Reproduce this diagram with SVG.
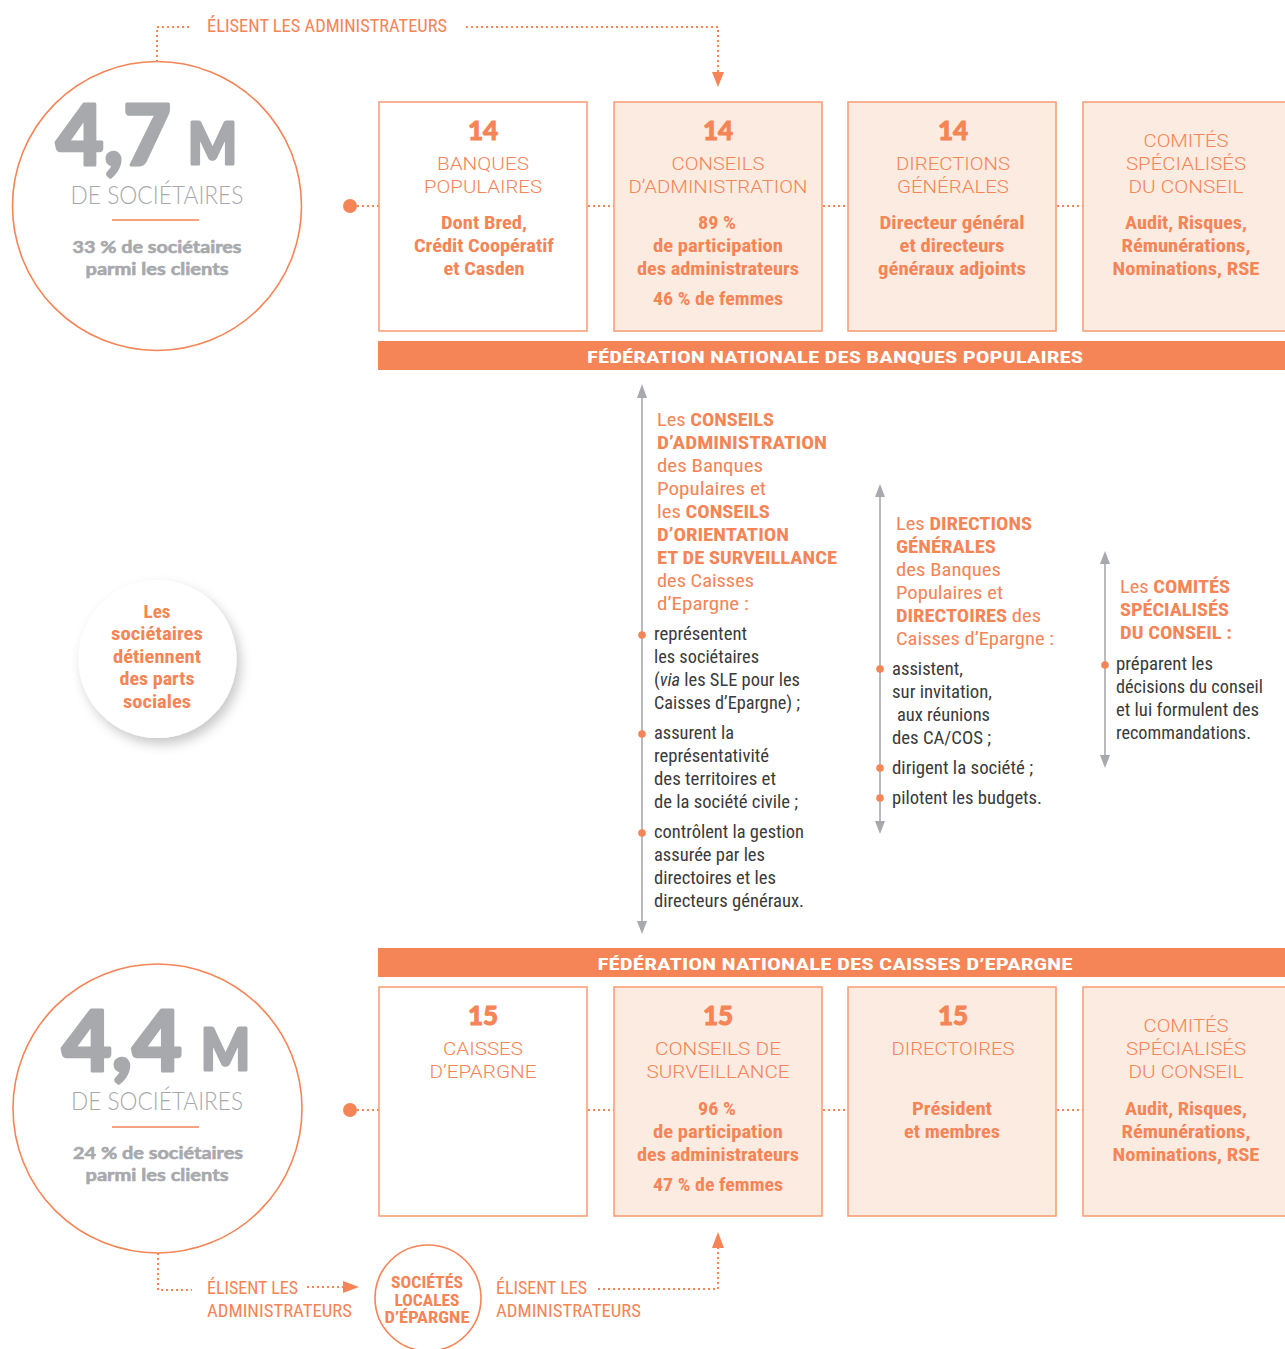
<svg xmlns="http://www.w3.org/2000/svg" width="1285" height="1349" viewBox="0 0 1285 1349">
<defs>
<style>
.ob{font-family:"Roboto Condensed","Liberation Sans Narrow",Roboto,"Liberation Sans",sans-serif;font-weight:700;fill:#F58456}
.or{font-family:"Roboto Condensed","Liberation Sans Narrow",Roboto,"Liberation Sans",sans-serif;font-weight:400;fill:#F58456}
.dk{font-family:"Roboto Condensed","Liberation Sans Narrow",Roboto,"Liberation Sans",sans-serif;font-weight:400;fill:#3a3a3a;font-size:17.5px}
.b{font-weight:700}
.lt{font-family:Roboto,"Liberation Sans",sans-serif;font-weight:300;font-size:18.5px;fill:#F58456;text-anchor:middle}
.num{font-family:Lato,"Open Sans",sans-serif;font-weight:900;font-size:26px;fill:#F58456;stroke:#F58456;stroke-width:0.9;text-anchor:middle}
.big{font-family:Lato,"Open Sans",sans-serif;font-weight:900;fill:#A7A9AC;stroke:#A7A9AC;stroke-width:3;stroke-linejoin:round}
.gl{font-family:Lato,"Open Sans",sans-serif;font-weight:300;font-size:25px;fill:#A7A9AC;text-anchor:middle}
.gb{font-family:Lato,"Open Sans",sans-serif;font-weight:700;font-size:17.5px;fill:#A7A9AC;stroke:#A7A9AC;stroke-width:0.6;text-anchor:middle}
.m{text-anchor:middle}
.bw{font-family:"Roboto Condensed","Liberation Sans Narrow",Roboto,"Liberation Sans",sans-serif;font-weight:700;font-size:17px;fill:#ffffff;text-anchor:middle}
.box{stroke:#F7A07A;stroke-width:1.6;fill:#ffffff}
.pk{fill:#FCEBE0}
.dot{stroke:#F58456;stroke-width:2;stroke-dasharray:2 3;fill:none}
.ring{stroke:#F58456;stroke-width:1.6;fill:#ffffff}
.vl{stroke:#A7A9AC;stroke-width:1.6;fill:none}
.ga{fill:#A7A9AC}
.oa{fill:#F58456}
</style>
<filter id="sh" x="-30%" y="-30%" width="160%" height="160%">
<feDropShadow dx="4" dy="6" stdDeviation="6" flood-color="#000000" flood-opacity="0.22"/>
</filter>
</defs>
<rect width="1285" height="1349" fill="#ffffff"/>

<g id="connectors">
<path class="dot" d="M157,62 V27 H191"/>
<path class="dot" d="M466,27 H718 V72"/>
<polygon class="oa" points="712,72 724,72 718,87"/>
<path class="dot" d="M357,206 H379 M588,206 H614 M823,206 H848 M1057,206 H1083"/>
<path class="dot" d="M357,1110 H379 M588,1110 H614 M823,1110 H848 M1057,1110 H1083"/>
<path class="dot" d="M158,1253 V1290 H192"/>
<path class="dot" d="M307,1287 H344"/>
<polygon class="oa" points="343,1281 359,1287 343,1293"/>
<path class="dot" d="M598,1289 H718 V1248"/>
<polygon class="oa" points="712,1248 724,1248 718,1232"/>
<line class="vl" x1="642" y1="395" x2="642" y2="924"/>
<polygon class="ga" points="637,398 647,398 642,384"/>
<polygon class="ga" points="637,921 647,921 642,934"/>
<line class="vl" x1="880" y1="494" x2="880" y2="824"/>
<polygon class="ga" points="875,497 885,497 880,484"/>
<polygon class="ga" points="875,821 885,821 880,834"/>
<line class="vl" x1="1105" y1="561" x2="1105" y2="758"/>
<polygon class="ga" points="1100,564 1110,564 1105,551"/>
<polygon class="ga" points="1100,755 1110,755 1105,768"/>
</g>

<g id="top-label">
<text class="or" x="207" y="32" font-size="19" textLength="240" lengthAdjust="spacingAndGlyphs">ÉLISENT LES ADMINISTRATEURS</text>
</g>

<g id="bp-societaires">
<circle class="ring" cx="157" cy="206" r="144.5"/>
<text class="big" x="56" y="165" font-size="84" textLength="115" lengthAdjust="spacingAndGlyphs">4,7</text>
<text class="big" x="188" y="164" font-size="57" textLength="49" lengthAdjust="spacingAndGlyphs">M</text>
<text class="gl" x="157" y="204" textLength="173" lengthAdjust="spacingAndGlyphs">DE SOCIÉTAIRES</text>
<line x1="112" y1="220" x2="199" y2="220" stroke="#F58456" stroke-width="1.6"/>
<text class="gb" x="157" y="253" textLength="169" lengthAdjust="spacingAndGlyphs">33 % de sociétaires</text>
<text class="gb" x="157" y="275" textLength="143" lengthAdjust="spacingAndGlyphs">parmi les clients</text>
<circle class="oa" cx="350" cy="206" r="7"/>
</g>

<g id="bp-banques">
<rect class="box" x="379" y="102" width="208" height="229"/>
<text class="num" x="483" y="140">14</text>
<text class="lt" x="483" y="170" textLength="92" lengthAdjust="spacingAndGlyphs">BANQUES</text>
<text class="lt" x="483" y="193" textLength="118" lengthAdjust="spacingAndGlyphs">POPULAIRES</text>
<text class="ob m" x="484" y="229" font-size="18.5" textLength="86" lengthAdjust="spacingAndGlyphs">Dont Bred,</text>
<text class="ob m" x="484" y="252" font-size="18.5" textLength="140" lengthAdjust="spacingAndGlyphs">Crédit Coopératif</text>
<text class="ob m" x="484" y="275" font-size="18.5" textLength="81" lengthAdjust="spacingAndGlyphs">et Casden</text>
</g>

<g id="bp-conseils">
<rect class="box pk" x="614" y="102" width="208" height="229"/>
<text class="num" x="718" y="140">14</text>
<text class="lt" x="718" y="170" textLength="93" lengthAdjust="spacingAndGlyphs">CONSEILS</text>
<text class="lt" x="718" y="193" textLength="179" lengthAdjust="spacingAndGlyphs">D’ADMINISTRATION</text>
<text class="ob m" x="717" y="229" font-size="18.5" textLength="38" lengthAdjust="spacingAndGlyphs">89 %</text>
<text class="ob m" x="718" y="252" font-size="18.5" textLength="130" lengthAdjust="spacingAndGlyphs">de participation</text>
<text class="ob m" x="718" y="275" font-size="18.5" textLength="162" lengthAdjust="spacingAndGlyphs">des administrateurs</text>
<text class="ob m" x="718" y="305" font-size="18.5" textLength="130" lengthAdjust="spacingAndGlyphs">46 % de femmes</text>
</g>

<g id="bp-directions">
<rect class="box pk" x="848" y="102" width="208" height="229"/>
<text class="num" x="953" y="140">14</text>
<text class="lt" x="953" y="170" textLength="114" lengthAdjust="spacingAndGlyphs">DIRECTIONS</text>
<text class="lt" x="953" y="193" textLength="112" lengthAdjust="spacingAndGlyphs">GÉNÉRALES</text>
<text class="ob m" x="952" y="229" font-size="18.5" textLength="145" lengthAdjust="spacingAndGlyphs">Directeur général</text>
<text class="ob m" x="952" y="252" font-size="18.5" textLength="105" lengthAdjust="spacingAndGlyphs">et directeurs</text>
<text class="ob m" x="952" y="275" font-size="18.5" textLength="148" lengthAdjust="spacingAndGlyphs">généraux adjoints</text>
</g>

<g id="bp-comites">
<rect class="box pk" x="1083" y="102" width="212" height="229"/>
<text class="lt" x="1186" y="147" textLength="85" lengthAdjust="spacingAndGlyphs">COMITÉS</text>
<text class="lt" x="1186" y="170" textLength="120" lengthAdjust="spacingAndGlyphs">SPÉCIALISÉS</text>
<text class="lt" x="1186" y="193" textLength="115" lengthAdjust="spacingAndGlyphs">DU CONSEIL</text>
<text class="ob m" x="1186" y="229" font-size="18.5" textLength="122" lengthAdjust="spacingAndGlyphs">Audit, Risques,</text>
<text class="ob m" x="1186" y="252" font-size="18.5" textLength="129" lengthAdjust="spacingAndGlyphs">Rémunérations,</text>
<text class="ob m" x="1186" y="275" font-size="18.5" textLength="147" lengthAdjust="spacingAndGlyphs">Nominations, RSE</text>
</g>

<g id="fnbp">
<rect x="378" y="341" width="907" height="29" fill="#F58456"/>
<text class="bw" x="835" y="363" textLength="496" lengthAdjust="spacingAndGlyphs">FÉDÉRATION NATIONALE DES BANQUES POPULAIRES</text>
</g>

<g id="parts-sociales">
<circle cx="157.5" cy="659" r="79" fill="#ffffff" filter="url(#sh)"/>
<text class="ob m" x="157" y="618" font-size="18.5" textLength="27" lengthAdjust="spacingAndGlyphs">Les</text>
<text class="ob m" x="157" y="640" font-size="18.5" textLength="92" lengthAdjust="spacingAndGlyphs">sociétaires</text>
<text class="ob m" x="157" y="663" font-size="18.5" textLength="88" lengthAdjust="spacingAndGlyphs">détiennent</text>
<text class="ob m" x="157" y="685" font-size="18.5" textLength="75" lengthAdjust="spacingAndGlyphs">des parts</text>
<text class="ob m" x="157" y="708" font-size="18.5" textLength="68" lengthAdjust="spacingAndGlyphs">sociales</text>
</g>

<g id="col-conseils">
<text class="or" x="657" y="426" font-size="19" textLength="117" lengthAdjust="spacingAndGlyphs">Les <tspan class="b">CONSEILS</tspan></text>
<text class="ob" x="657" y="449" font-size="19" textLength="170" lengthAdjust="spacingAndGlyphs">D’ADMINISTRATION</text>
<text class="or" x="657" y="472" font-size="19" textLength="106" lengthAdjust="spacingAndGlyphs">des Banques</text>
<text class="or" x="657" y="495" font-size="19" textLength="109" lengthAdjust="spacingAndGlyphs">Populaires et</text>
<text class="or" x="657" y="518" font-size="19" textLength="113" lengthAdjust="spacingAndGlyphs">les <tspan class="b">CONSEILS</tspan></text>
<text class="ob" x="657" y="541" font-size="19" textLength="132" lengthAdjust="spacingAndGlyphs">D’ORIENTATION</text>
<text class="ob" x="657" y="564" font-size="19" textLength="180" lengthAdjust="spacingAndGlyphs">ET DE SURVEILLANCE</text>
<text class="or" x="657" y="587" font-size="19" textLength="97" lengthAdjust="spacingAndGlyphs">des Caisses</text>
<text class="or" x="657" y="610" font-size="19" textLength="92" lengthAdjust="spacingAndGlyphs">d’Epargne :</text>
<circle class="oa" cx="642" cy="635" r="3.8"/>
<circle class="oa" cx="642" cy="734" r="3.8"/>
<circle class="oa" cx="642" cy="833" r="3.8"/>
<text class="dk" x="654" y="640" textLength="93" lengthAdjust="spacingAndGlyphs">représentent</text>
<text class="dk" x="654" y="663" textLength="105" lengthAdjust="spacingAndGlyphs">les sociétaires</text>
<text class="dk" x="654" y="686" textLength="146" lengthAdjust="spacingAndGlyphs">(<tspan font-style="italic">via</tspan> les SLE pour les</text>
<text class="dk" x="654" y="709" textLength="146" lengthAdjust="spacingAndGlyphs">Caisses d’Epargne) ;</text>
<text class="dk" x="654" y="739" textLength="80" lengthAdjust="spacingAndGlyphs">assurent la</text>
<text class="dk" x="654" y="762" textLength="115" lengthAdjust="spacingAndGlyphs">représentativité</text>
<text class="dk" x="654" y="785" textLength="122" lengthAdjust="spacingAndGlyphs">des territoires et</text>
<text class="dk" x="654" y="808" textLength="144" lengthAdjust="spacingAndGlyphs">de la société civile ;</text>
<text class="dk" x="654" y="838" textLength="150" lengthAdjust="spacingAndGlyphs">contrôlent la gestion</text>
<text class="dk" x="654" y="861" textLength="111" lengthAdjust="spacingAndGlyphs">assurée par les</text>
<text class="dk" x="654" y="884" textLength="122" lengthAdjust="spacingAndGlyphs">directoires et les</text>
<text class="dk" x="654" y="907" textLength="150" lengthAdjust="spacingAndGlyphs">directeurs généraux.</text>
</g>

<g id="col-directions">
<text class="or" x="896" y="530" font-size="19" textLength="136" lengthAdjust="spacingAndGlyphs">Les <tspan class="b">DIRECTIONS</tspan></text>
<text class="ob" x="896" y="553" font-size="19" textLength="100" lengthAdjust="spacingAndGlyphs">GÉNÉRALES</text>
<text class="or" x="896" y="576" font-size="19" textLength="105" lengthAdjust="spacingAndGlyphs">des Banques</text>
<text class="or" x="896" y="599" font-size="19" textLength="107" lengthAdjust="spacingAndGlyphs">Populaires et</text>
<text class="or" x="896" y="622" font-size="19" textLength="145" lengthAdjust="spacingAndGlyphs"><tspan class="b">DIRECTOIRES</tspan> des</text>
<text class="or" x="896" y="645" font-size="19" textLength="158" lengthAdjust="spacingAndGlyphs">Caisses d’Epargne :</text>
<circle class="oa" cx="880" cy="669" r="3.8"/>
<circle class="oa" cx="880" cy="768" r="3.8"/>
<circle class="oa" cx="880" cy="798" r="3.8"/>
<text class="dk" x="892" y="675" textLength="71" lengthAdjust="spacingAndGlyphs">assistent,</text>
<text class="dk" x="892" y="698" textLength="100" lengthAdjust="spacingAndGlyphs">sur invitation,</text>
<text class="dk" x="897" y="721" textLength="93" lengthAdjust="spacingAndGlyphs">aux réunions</text>
<text class="dk" x="892" y="744" textLength="99" lengthAdjust="spacingAndGlyphs">des CA/COS ;</text>
<text class="dk" x="892" y="774" textLength="141" lengthAdjust="spacingAndGlyphs">dirigent la société ;</text>
<text class="dk" x="892" y="804" textLength="150" lengthAdjust="spacingAndGlyphs">pilotent les budgets.</text>
</g>

<g id="col-comites">
<text class="or" x="1120" y="593" font-size="19" textLength="110" lengthAdjust="spacingAndGlyphs">Les <tspan class="b">COMITÉS</tspan></text>
<text class="ob" x="1120" y="616" font-size="19" textLength="109" lengthAdjust="spacingAndGlyphs">SPÉCIALISÉS</text>
<text class="ob" x="1120" y="639" font-size="19" textLength="112" lengthAdjust="spacingAndGlyphs">DU CONSEIL :</text>
<circle class="oa" cx="1105" cy="665" r="3.8"/>
<text class="dk" x="1116" y="670" textLength="97" lengthAdjust="spacingAndGlyphs">préparent les</text>
<text class="dk" x="1116" y="693" textLength="147" lengthAdjust="spacingAndGlyphs">décisions du conseil</text>
<text class="dk" x="1116" y="716" textLength="143" lengthAdjust="spacingAndGlyphs">et lui formulent des</text>
<text class="dk" x="1116" y="739" textLength="135" lengthAdjust="spacingAndGlyphs">recommandations.</text>
</g>

<g id="fnce">
<rect x="378" y="948" width="907" height="29" fill="#F58456"/>
<text class="bw" x="835" y="970" textLength="475" lengthAdjust="spacingAndGlyphs">FÉDÉRATION NATIONALE DES CAISSES D’EPARGNE</text>
</g>

<g id="ce-societaires">
<circle class="ring" cx="157.5" cy="1108.5" r="144.5"/>
<text class="big" x="62" y="1071" font-size="84" textLength="120" lengthAdjust="spacingAndGlyphs">4,4</text>
<text class="big" x="201" y="1070" font-size="57" textLength="49" lengthAdjust="spacingAndGlyphs">M</text>
<text class="gl" x="157" y="1110" textLength="172" lengthAdjust="spacingAndGlyphs">DE SOCIÉTAIRES</text>
<line x1="112" y1="1127" x2="199" y2="1127" stroke="#F58456" stroke-width="1.6"/>
<text class="gb" x="158" y="1159" textLength="170" lengthAdjust="spacingAndGlyphs">24 % de sociétaires</text>
<text class="gb" x="157" y="1181" textLength="143" lengthAdjust="spacingAndGlyphs">parmi les clients</text>
<circle class="oa" cx="350" cy="1110" r="7"/>
</g>

<g id="ce-caisses">
<rect class="box" x="379" y="987" width="208" height="229"/>
<text class="num" x="483" y="1025">15</text>
<text class="lt" x="483" y="1055" textLength="80" lengthAdjust="spacingAndGlyphs">CAISSES</text>
<text class="lt" x="483" y="1078" textLength="107" lengthAdjust="spacingAndGlyphs">D’EPARGNE</text>
</g>

<g id="ce-conseils">
<rect class="box pk" x="614" y="987" width="208" height="229"/>
<text class="num" x="718" y="1025">15</text>
<text class="lt" x="718" y="1055" textLength="126" lengthAdjust="spacingAndGlyphs">CONSEILS DE</text>
<text class="lt" x="718" y="1078" textLength="143" lengthAdjust="spacingAndGlyphs">SURVEILLANCE</text>
<text class="ob m" x="717" y="1115" font-size="18.5" textLength="38" lengthAdjust="spacingAndGlyphs">96 %</text>
<text class="ob m" x="718" y="1138" font-size="18.5" textLength="130" lengthAdjust="spacingAndGlyphs">de participation</text>
<text class="ob m" x="718" y="1161" font-size="18.5" textLength="162" lengthAdjust="spacingAndGlyphs">des administrateurs</text>
<text class="ob m" x="718" y="1191" font-size="18.5" textLength="130" lengthAdjust="spacingAndGlyphs">47 % de femmes</text>
</g>

<g id="ce-directoires">
<rect class="box pk" x="848" y="987" width="208" height="229"/>
<text class="num" x="953" y="1025">15</text>
<text class="lt" x="953" y="1055" textLength="123" lengthAdjust="spacingAndGlyphs">DIRECTOIRES</text>
<text class="ob m" x="952" y="1115" font-size="18.5" textLength="80" lengthAdjust="spacingAndGlyphs">Président</text>
<text class="ob m" x="952" y="1138" font-size="18.5" textLength="96" lengthAdjust="spacingAndGlyphs">et membres</text>
</g>

<g id="ce-comites">
<rect class="box pk" x="1083" y="987" width="212" height="229"/>
<text class="lt" x="1186" y="1032" textLength="85" lengthAdjust="spacingAndGlyphs">COMITÉS</text>
<text class="lt" x="1186" y="1055" textLength="120" lengthAdjust="spacingAndGlyphs">SPÉCIALISÉS</text>
<text class="lt" x="1186" y="1078" textLength="115" lengthAdjust="spacingAndGlyphs">DU CONSEIL</text>
<text class="ob m" x="1186" y="1115" font-size="18.5" textLength="122" lengthAdjust="spacingAndGlyphs">Audit, Risques,</text>
<text class="ob m" x="1186" y="1138" font-size="18.5" textLength="129" lengthAdjust="spacingAndGlyphs">Rémunérations,</text>
<text class="ob m" x="1186" y="1161" font-size="18.5" textLength="147" lengthAdjust="spacingAndGlyphs">Nominations, RSE</text>
</g>

<g id="bottom-labels">
<text class="or" x="207" y="1294" font-size="18.5" textLength="91" lengthAdjust="spacingAndGlyphs">ÉLISENT LES</text>
<text class="or" x="207" y="1317" font-size="18.5" textLength="145" lengthAdjust="spacingAndGlyphs">ADMINISTRATEURS</text>
<text class="or" x="496" y="1294" font-size="18.5" textLength="91" lengthAdjust="spacingAndGlyphs">ÉLISENT LES</text>
<text class="or" x="496" y="1317" font-size="18.5" textLength="145" lengthAdjust="spacingAndGlyphs">ADMINISTRATEURS</text>
</g>

<g id="sle">
<circle class="ring" cx="428" cy="1298" r="53"/>
<text class="ob m" x="427" y="1288" font-size="16.5" textLength="72" lengthAdjust="spacingAndGlyphs">SOCIÉTÉS</text>
<text class="ob m" x="427" y="1306" font-size="16.5" textLength="65" lengthAdjust="spacingAndGlyphs">LOCALES</text>
<text class="ob m" x="427" y="1323" font-size="16.5" textLength="85" lengthAdjust="spacingAndGlyphs">D’ÉPARGNE</text>
</g>
</svg>
